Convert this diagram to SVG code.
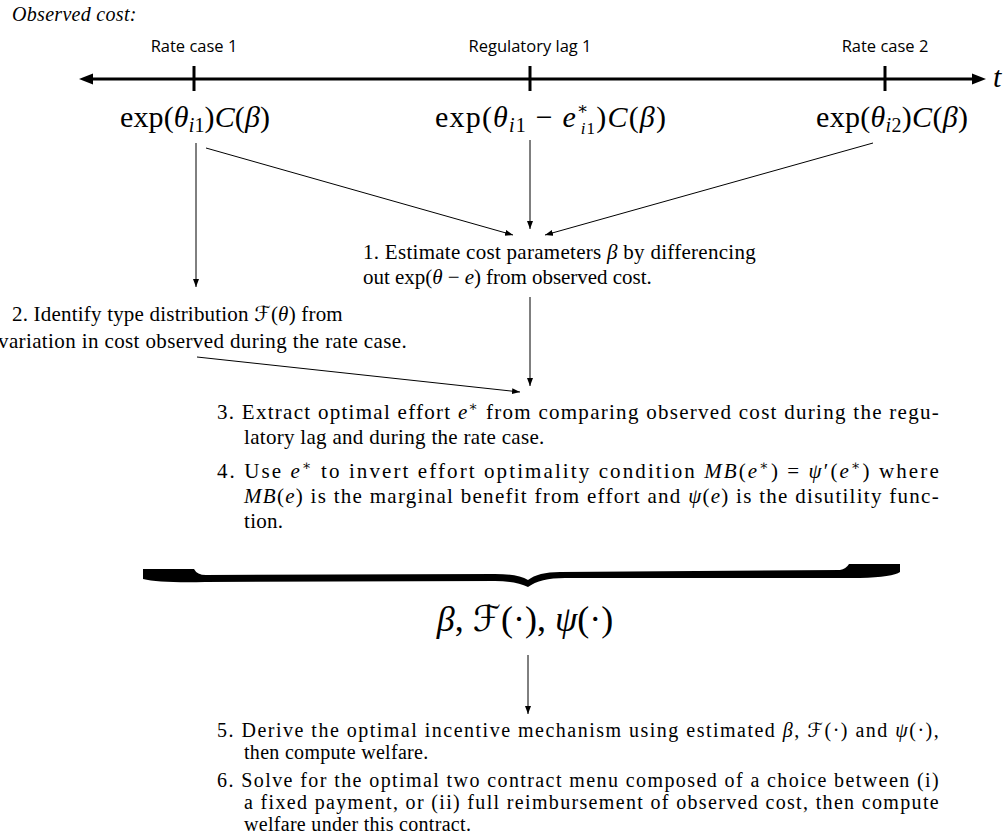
<svg xmlns="http://www.w3.org/2000/svg" width="1008" height="834" viewBox="0 0 1008 834">
<style>
.t{font-family:"Liberation Serif","DejaVu Serif",serif;font-size:21px;fill:#000;letter-spacing:0.3px}
.b{font-size:20px}
.m{font-family:"Liberation Serif","DejaVu Serif",serif;font-size:30px;fill:#000}
.s{font-family:"Open Sans","Liberation Sans",sans-serif;font-size:16.5px;fill:#000}
.i{font-style:italic}
.scr{font-family:"DejaVu Serif","DejaVu Sans",serif;font-style:italic}
.c{stroke:#000;stroke-width:1;fill:none;marker-end:url(#ah)}
</style>
<defs>
<marker id="ah" markerUnits="userSpaceOnUse" markerWidth="10" markerHeight="8" refX="8" refY="3" orient="auto">
<path d="M0,0 L8,3 L0,6 Z" fill="#000"/>
</marker>
</defs>

<g id="title"><text x="12" y="21" class="t i" style="font-size:20px">Observed cost:</text></g>

<g id="timeline">
<line x1="90" y1="79" x2="976" y2="79" stroke="#000" stroke-width="3"/>
<path d="M79,79 L93,73.5 L93,84.5 Z" fill="#000"/>
<path d="M986,79 L972,73.5 L972,84.5 Z" fill="#000"/>
<line x1="194" y1="66" x2="194" y2="91" stroke="#000" stroke-width="3"/>
<line x1="530" y1="66" x2="530" y2="91" stroke="#000" stroke-width="3"/>
<line x1="885" y1="66" x2="885" y2="91" stroke="#000" stroke-width="3"/>
<text x="993" y="87" class="m i">t</text>
<text x="194" y="52" class="s" text-anchor="middle">Rate case 1</text>
<text x="530" y="52" class="s" text-anchor="middle">Regulatory lag 1</text>
<text x="885" y="52" class="s" text-anchor="middle">Rate case 2</text>
</g>

<g id="cost1"><text x="120" y="127" class="m" textLength="150">exp(<tspan class="i">θ</tspan><tspan font-size="20" dy="5" class="i">i</tspan><tspan font-size="20">1</tspan><tspan dy="-5">)</tspan><tspan class="i">C</tspan>(<tspan class="i">β</tspan>)</text></g>
<g id="cost2"><text x="435" y="127" class="m" textLength="231">exp(<tspan class="i">θ</tspan><tspan font-size="20" dy="5" class="i">i</tspan><tspan font-size="20">1</tspan><tspan dy="-5"> − </tspan><tspan class="i">e</tspan><tspan font-size="17" dy="-13">∗</tspan><tspan font-size="17" dx="-9" dy="20" class="i">i</tspan><tspan font-size="17">1</tspan><tspan dy="-7">)</tspan><tspan class="i">C</tspan>(<tspan class="i">β</tspan>)</text></g>
<g id="cost3"><text x="816" y="127" class="m" textLength="152">exp(<tspan class="i">θ</tspan><tspan font-size="20" dy="5" class="i">i</tspan><tspan font-size="20">2</tspan><tspan dy="-5">)</tspan><tspan class="i">C</tspan>(<tspan class="i">β</tspan>)</text></g>

<g id="step1">
<text x="363" y="259" class="t" textLength="393">1. Estimate cost parameters <tspan class="i">β</tspan> by differencing</text>
<text x="363" y="284" class="t" textLength="289">out exp(<tspan class="i">θ</tspan> − <tspan class="i">e</tspan>) from observed cost.</text>
</g>

<g id="step2">
<text x="12" y="321" class="t" textLength="331">2. Identify type distribution <tspan class="scr">ℱ</tspan>(<tspan class="i">θ</tspan>) from</text>
<text x="-2" y="348" class="t" textLength="409">variation in cost observed during the rate case.</text>
</g>

<g id="step3">
<text x="217" y="419" class="t" textLength="722">3. Extract optimal effort <tspan class="i">e</tspan><tspan font-size="14" dy="-8">∗</tspan><tspan dy="8"> from comparing observed cost during the regu-</tspan></text>
<text x="244" y="444" class="t">latory lag and during the rate case.</text>
</g>

<g id="step4">
<text x="217" y="478" class="t" textLength="722">4. Use <tspan class="i">e</tspan><tspan font-size="14" dy="-8">∗</tspan><tspan dy="8"> to invert effort optimality condition </tspan><tspan class="i">MB</tspan>(<tspan class="i">e</tspan><tspan font-size="14" dy="-8">∗</tspan><tspan dy="8">) = </tspan><tspan class="i">ψ</tspan>′(<tspan class="i">e</tspan><tspan font-size="14" dy="-8">∗</tspan><tspan dy="8">) where</tspan></text>
<text x="244" y="503" class="t" textLength="695"><tspan class="i">MB</tspan>(<tspan class="i">e</tspan>) is the marginal benefit from effort and <tspan class="i">ψ</tspan>(<tspan class="i">e</tspan>) is the disutility func-</text>
<text x="244" y="528" class="t">tion.</text>
</g>

<g id="brace">
<path d="M143,569 L194,569 Q197,575 206,575 L495,574 Q518,574 528,580 Q538,572 560,572 L840,570 Q846,569 849,564 L900,564 L900,572 Q893,577 860,578 L565,578 Q540,578 528,587 Q516,581 495,581 L205,582 Q160,583 143,579 Z" fill="#000"/>
</g>

<g id="params"><text x="525" y="631" class="m" text-anchor="middle" style="font-size:36px"><tspan class="i">β</tspan>, <tspan class="scr">ℱ</tspan>(·), <tspan class="i">ψ</tspan>(·)</text></g>

<g id="step5">
<text x="217" y="737" class="t b" textLength="722">5. Derive the optimal incentive mechanism using estimated <tspan class="i">β</tspan>, <tspan class="scr">ℱ</tspan>(·) and <tspan class="i">ψ</tspan>(·),</text>
<text x="244" y="759" class="t b">then compute welfare.</text>
</g>

<g id="step6">
<text x="217" y="787" class="t b" textLength="722">6. Solve for the optimal two contract menu composed of a choice between (i)</text>
<text x="244" y="809" class="t b" textLength="695">a fixed payment, or (ii) full reimbursement of observed cost, then compute</text>
<text x="244" y="831" class="t b">welfare under this contract.</text>
</g>

<g id="connectors">
<line class="c" x1="196" y1="143" x2="196" y2="287"/>
<line class="c" x1="206" y1="148" x2="513" y2="235"/>
<line class="c" x1="530" y1="140" x2="530" y2="229"/>
<line class="c" x1="873" y1="143" x2="545" y2="235"/>
<line class="c" x1="530" y1="297" x2="530" y2="386"/>
<line class="c" x1="197" y1="357" x2="520" y2="392"/>
<line class="c" x1="528" y1="655" x2="528" y2="714"/>
</g>
</svg>
